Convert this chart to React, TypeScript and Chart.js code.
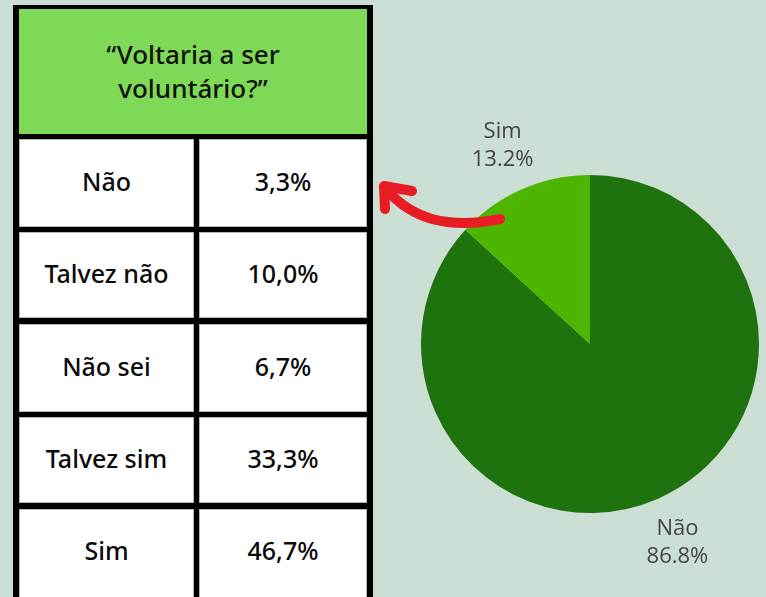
import React, { useEffect, useRef } from "react";
import { Chart, registerables } from "chart.js";

Chart.register(...registerables);

// Table data
const tableTitle = ["“Voltaria a ser", "voluntário?”"];
const tableCategories = ["Não", "Talvez não", "Não sei", "Talvez sim", "Sim"];
const tableValues = ["3,3%", "10,0%", "6,7%", "33,3%", "46,7%"];

// Pie data
const pieLabels = ["Não", "Sim"];
const pieValues = [86.8, 13.2];
const pieColors = ["#1f730e", "#4db501"];

const BG = "#cbded3";
const FONT = "'Open Sans', 'Noto Sans', sans-serif";
const TABLE_FONT = "'Noto Sans', 'Open Sans', sans-serif";

const outsideLabels = {
  id: "outsideLabels",
  afterDatasetsDraw(chart: any) {
    const ctx = chart.ctx;
    const meta = chart.getDatasetMeta(0);
    const data = chart.data.datasets[0].data as number[];
    const total = data.reduce((a, b) => a + b, 0);
    ctx.save();
    ctx.font = `22px ${FONT}`;
    ctx.fillStyle = "#444444";
    ctx.textAlign = "center";
    ctx.textBaseline = "middle";
    meta.data.forEach((arc: any, i: number) => {
      const mid = (arc.startAngle + arc.endAngle) / 2;
      const r = arc.outerRadius + 48;
      const x = arc.x + Math.cos(mid) * r;
      const y = arc.y + Math.sin(mid) * r;
      const pct = ((data[i] / total) * 100).toFixed(1) + "%";
      ctx.fillText(chart.data.labels[i], x, y - 14);
      ctx.fillText(pct, x, y + 14);
    });
    ctx.restore();
  },
};

function PieChart() {
  const ref = useRef<HTMLCanvasElement | null>(null);
  useEffect(() => {
    if (!ref.current) return;
    const chart = new Chart(ref.current, {
      type: "pie",
      data: {
        labels: pieLabels,
        datasets: [
          {
            data: pieValues,
            backgroundColor: pieColors,
            borderWidth: 0,
          },
        ],
      },
      options: {
        responsive: false,
        animation: false,
        layout: { padding: { left: 45, right: 7, top: 175, bottom: 84 } },
        plugins: {
          legend: { display: false },
          tooltip: { enabled: false },
        },
      },
      plugins: [outsideLabels],
    });
    return () => chart.destroy();
  }, []);
  return (
    <canvas
      ref={ref}
      width={390}
      height={597}
      style={{ position: "absolute", left: 376, top: 0, width: 390, height: 597 }}
    />
  );
}

const rowTops = [139, 232, 324, 417, 509];
const rowHeights = [88, 86, 88, 86, 100];
const rowPadBottom = [0, 0, 0, 0, 14];

export default function App() {
  const cellStyle = (left: number, width: number, i: number): React.CSSProperties => ({
    position: "absolute",
    left,
    top: rowTops[i],
    width,
    height: rowHeights[i],
    paddingBottom: rowPadBottom[i] + 4,
    background: "#ffffff",
    display: "flex",
    alignItems: "center",
    justifyContent: "center",
    fontFamily: TABLE_FONT,
    fontSize: 25,
    fontWeight: 500,
    color: "#0a0a0a",
    boxSizing: "border-box",
    border: "1px solid #b5b5b5",
  });
  return (
    <div
      style={{
        position: "fixed",
        left: 0,
        top: 0,
        width: 766,
        height: 597,
        overflow: "hidden",
        background: BG,
      }}
    >
      <div
        style={{
          position: "absolute",
          left: 13,
          top: 5,
          width: 360,
          height: 600,
          background: "#000",
        }}
      />
      <div
        style={{
          position: "absolute",
          left: 19,
          top: 9,
          width: 348,
          height: 125,
          paddingBottom: 2,
          boxSizing: "border-box",
          background: "#7ed957",
          display: "flex",
          flexDirection: "column",
          alignItems: "center",
          justifyContent: "center",
          fontFamily: TABLE_FONT,
          fontSize: 26,
          fontWeight: 500,
          lineHeight: "34px",
          color: "#111",
        }}
      >
        {tableTitle.map((t, i) => (
          <div key={i}>{t}</div>
        ))}
      </div>
      {tableCategories.map((c, i) => (
        <React.Fragment key={c}>
          <div style={cellStyle(19, 175, i)}>{c}</div>
          <div style={cellStyle(199, 168, i)}>{tableValues[i]}</div>
        </React.Fragment>
      ))}
      <PieChart />
      <svg
        width={766}
        height={597}
        style={{ position: "absolute", left: 0, top: 0, pointerEvents: "none" }}
      >
        <path
          d="M 500 219 Q 462 227 432 219 Q 405 211 387 190"
          fill="none"
          stroke="#e81c25"
          strokeWidth={10}
          strokeLinecap="round"
          strokeLinejoin="round"
        />
        <path
          d="M 412 191 L 384 186 L 385 209"
          fill="none"
          stroke="#e81c25"
          strokeWidth={10}
          strokeLinecap="round"
          strokeLinejoin="round"
        />
      </svg>
    </div>
  );
}
